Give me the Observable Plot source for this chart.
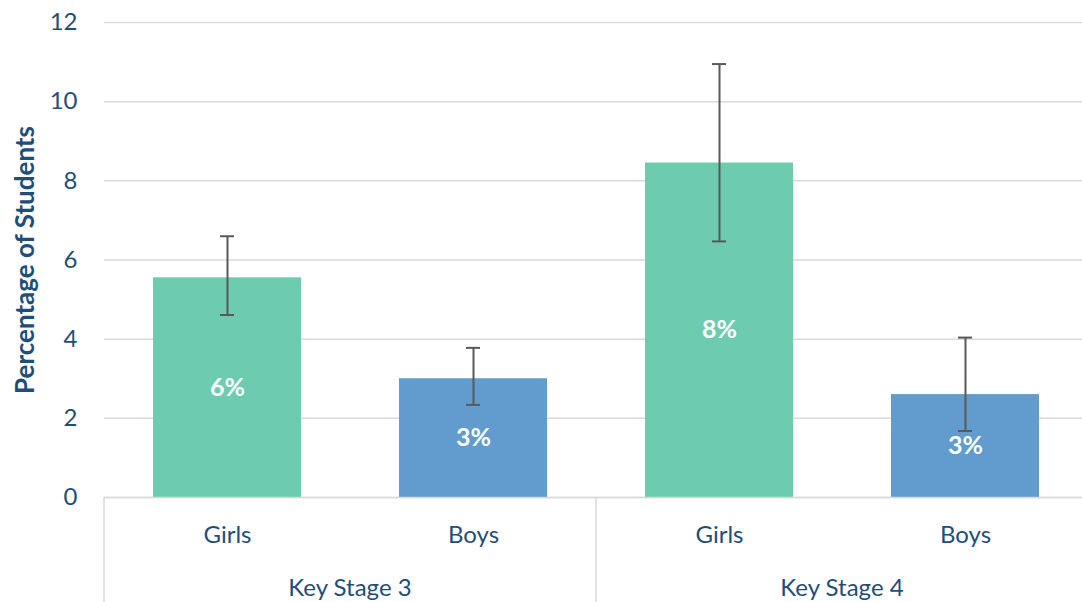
<!DOCTYPE html>
<html><head><meta charset="utf-8">
<script src="https://cdn.jsdelivr.net/npm/d3@7"></script>
<script src="https://cdn.jsdelivr.net/npm/@observablehq/plot@0.6"></script>
<style>
html,body{margin:0;padding:0;background:#fff;}
#chart{width:1082px;height:602px;overflow:hidden;}
</style></head><body><div id="chart"></div>
<script>
// ---- data ----
const stages = ["Key Stage 3", "Key Stage 3", "Key Stage 4", "Key Stage 4"];
const sexes  = ["Girls", "Boys", "Girls", "Boys"];
const values = [5.55, 3.0, 8.45, 2.6];
const lower  = [4.61, 2.34, 6.47, 1.68];
const upper  = [6.6, 3.78, 10.95, 4.04];
const yTicks = [0, 2, 4, 6, 8, 10, 12];
const yTitle = "Percentage of Students";
const sexColors = ["#6DCCB0", "#629BCD"];

const data = sexes.map((s, i) => ({
  key: stages[i] + "|" + s, stage: stages[i], sex: s,
  value: values[i], lo: lower[i], hi: upper[i]
}));
const keys = data.map(d => d.key);

const textColor = "#1F4E79";
const font = "Lato, 'Open Sans', sans-serif";

// group separators + group labels under the category axis
const groupMark = (index, scales, vals, dims) => {
  const x = scales.x, bw = x.bandwidth(), gap = x.step() - bw;
  const yBase = scales.y(0);
  const g = d3.create("svg:g");
  const edges = new Set();
  for (const [stage, rows] of d3.groups(data, d => d.stage)) {
    const left = x(rows[0].key) - gap / 2;
    const right = x(rows[rows.length - 1].key) + bw + gap / 2;
    edges.add(left); edges.add(right);
    g.append("text")
      .attr("x", (left + right) / 2)
      .attr("y", yBase + 91)
      .attr("dy", "0.35em")
      .attr("text-anchor", "middle")
      .attr("fill", textColor)
      .attr("font-size", 24)
      .text(stage);
  }
  for (const e of edges) {
    g.append("line")
      .attr("x1", e).attr("x2", e)
      .attr("y1", yBase).attr("y2", dims.height)
      .attr("stroke", "#d9d9d9").attr("stroke-width", 1.5);
  }
  return g.node();
};

const chart = Plot.plot({
  width: 1082,
  height: 602,
  marginTop: 22,
  marginBottom: 105,
  marginLeft: 104,
  marginRight: -6,
  style: {fontFamily: font, fontSize: "24px", color: textColor, background: "white", overflow: "visible"},
  x: {domain: keys, paddingInner: 0.4, paddingOuter: 0.2},
  y: {domain: [0, 12]},
  color: {domain: ["Girls", "Boys"], range: sexColors},
  marks: [
    Plot.gridY(yTicks, {stroke: "#d9d9d9", strokeOpacity: 1, strokeWidth: 1.5}),
    Plot.barY(data, {x: "key", y: "value", fill: "sex"}),
    Plot.ruleX(data, {x: "key", y1: "lo", y2: "hi", stroke: "#595959", strokeWidth: 2}),
    Plot.tickY(data, {x: "key", y: "lo", stroke: "#595959", strokeWidth: 2, insetLeft: 67, insetRight: 67}),
    Plot.tickY(data, {x: "key", y: "hi", stroke: "#595959", strokeWidth: 2, insetLeft: 67, insetRight: 67}),
    Plot.text(data, {x: "key", y: d => d.value / 2, text: d => Math.round(d.value) + "%",
      fill: "white", fontWeight: "bold", fontSize: 25}),
    Plot.axisY(yTicks, {tickSize: 0, tickPadding: 27, label: null, fontSize: 24}),
    Plot.axisX({tickSize: 0, tickPadding: 28, label: null, tickFormat: k => k.split("|")[1], fontSize: 24}),
    Plot.ruleY([0], {stroke: "#d9d9d9", strokeWidth: 1.5}),
    Plot.text([yTitle], {frameAnchor: "left", rotate: -90, dx: -79, text: d => d,
      fontWeight: "bold", fontSize: 26, fill: textColor, textAnchor: "middle", lineAnchor: "middle"}),
    groupMark
  ]
});
document.getElementById("chart").appendChild(chart);
</script>
</body></html>
